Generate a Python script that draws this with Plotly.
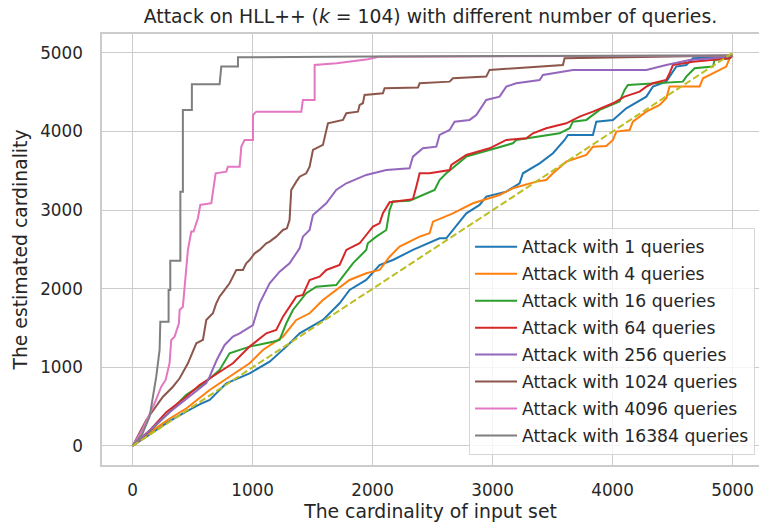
import plotly.graph_objects as go

# ---- data ----
series_names = ["Attack with 1 queries", "Attack with 4 queries", "Attack with 16 queries",
                "Attack with 64 queries", "Attack with 256 queries", "Attack with 1024 queries",
                "Attack with 4096 queries", "Attack with 16384 queries"]
colors = ["#1f77b4", "#ff7f0e", "#2ca02c", "#d62728", "#9467bd", "#8c564b", "#e377c2", "#7f7f7f"]

q1 = [(0,0),(150,160),(300,310),(450,440),(558,530),(642,585),(781,797),(975,924),(1142,1073),(1281,1264),
      (1392,1433),(1586,1603),(1725,1815),(1808,1985),(1947,2112),(2058,2300),(2169,2366),(2336,2494),(2558,2642),
      (2614,2642),(2669,2748),(2781,2960),(2892,3066),(2947,3172),(3114,3236),(3225,3342),(3253,3469),(3392,3596),
      (3503,3724),(3600,3893),(3628,3957),(3836,3957),(3864,4126),(4003,4148),(4114,4296),(4281,4444),(4336,4572),
      (4447,4635),(4530,4826),(4614,4847),(4669,4932),(4975,4953),(5000,4968)]
q4 = [(0,0),(150,180),(300,340),(450,480),(642,712),(808,882),(975,1052),(1086,1221),(1253,1391),(1364,1603),
      (1475,1688),(1586,1857),(1697,1985),(1808,2112),(1947,2197),(2058,2239),(2142,2408),(2225,2536),(2392,2663),
      (2475,2706),(2503,2854),(2669,2960),(2836,3088),(3058,3193),(3169,3278),(3364,3363),(3447,3384),(3503,3469),
      (3614,3617),(3781,3702),(3836,3808),(3947,3817),(4003,3893),(4031,3999),(4142,4020),(4169,4126),(4281,4253),
      (4392,4338),(4447,4423),(4475,4572),(4725,4572),(4753,4678),(4864,4763),(4947,4826),(4975,4932),(5000,4968)]
q16 = [(0,0),(150,200),(300,420),(447,650),(600,800),(725,967),(808,1179),(975,1264),(1169,1327),(1225,1349),
       (1281,1561),(1336,1730),(1447,1943),(1531,2027),(1697,2048),(1753,2154),(1836,2324),(1947,2494),(1960,2579),
       (2031,2663),(2114,2748),(2142,3003),(2169,3110),(2308,3120),(2392,3172),(2447,3215),(2517,3257),(2558,3384),
       (2614,3470),(2781,3681),(2975,3766),(3169,3851),(3197,3893),(3447,3957),(3558,3978),(3642,4042),(3669,4126),
       (3781,4148),(3892,4275),(4058,4381),(4100,4529),(4128,4593),(4336,4614),(4586,4635),(4614,4699),(4683,4805),
       (4836,4826),(4850,4911),(4975,4932),(5000,4968)]
q64 = [(0,0),(150,210),(281,430),(447,627),(558,776),(669,882),(836,1052),(975,1264),(1114,1433),(1197,1476),
       (1253,1645),(1364,1900),(1419,1921),(1475,2112),(1558,2154),(1614,2239),(1725,2303),(1781,2494),(1892,2579),
       (1947,2684),(2003,2790),(2058,2833),(2086,2960),(2142,3100),(2336,3140),(2364,3299),(2392,3469),(2475,3469),
       (2642,3511),(2656,3575),(2781,3702),(2975,3787),(3114,3893),(3281,3914),(3336,3978),(3447,4042),(3614,4105),
       (3725,4190),(3836,4253),(4003,4360),(4100,4444),(4225,4508),(4281,4572),(4336,4614),(4447,4656),(4475,4741),
       (4503,4847),(4669,4889),(4975,4932),(5000,4968)]
q256 = [(0,0),(150,210),(300,420),(450,600),(614,800),(642,882),(700,1090),(767,1285),(836,1391),(892,1433),
        (975,1518),(1003,1539),(1058,1815),(1114,1985),(1142,2070),(1225,2218),(1308,2324),(1392,2515),(1419,2663),
        (1475,2748),(1503,2939),(1614,3088),(1697,3257),(1781,3342),(1947,3448),(2114,3511),(2308,3533),(2336,3681),
        (2419,3787),(2531,3808),(2558,3957),(2642,4020),(2683,4126),(2808,4148),(2864,4211),(2947,4402),(3058,4444),
        (3114,4572),(3197,4614),(3392,4656),(3419,4720),(3669,4784),(4281,4784),(4447,4847),(4642,4911),(4836,4932),
        (5000,4968)]
q1024 = [(0,0),(114,331),(253,627),(336,754),(392,861),(433,967),(461,1052),(531,1306),(586,1349),(614,1603),
         (669,1688),(697,1815),(725,1900),(767,1985),(808,2070),(836,2154),(864,2239),(919,2239),(947,2324),
         (975,2366),(1017,2451),(1058,2494),(1114,2579),(1142,2600),(1197,2663),(1253,2748),(1286,2769),(1308,2875),
         (1322,3257),(1364,3363),(1392,3426),(1447,3469),(1475,3553),(1503,3766),(1531,3787),(1586,3830),(1628,4106),
         (1697,4126),(1753,4148),(1781,4233),(1878,4253),(1892,4338),(1919,4360),(1933,4466),(2086,4487),(2100,4551),
         (2378,4560),(2392,4614),(2642,4635),(2669,4678),(2947,4699),(2975,4784),(3586,4847),(3600,4932),(4253,4945),
         (5000,4968)]
q4096 = [(0,0),(80,200),(183,543),(239,755),(275,840),(308,1052),(322,1349),(350,1391),(386,1561),(392,1730),
         (419,1772),(433,1985),(453,2281),(461,2494),(489,2727),(508,2727),(544,2897),(564,3066),(656,3088),
         (692,3469),(781,3490),(794,3553),(892,3553),(906,3808),(933,3893),(1003,3893),(1003,4211),(1031,4253),
         (1406,4253),(1419,4402),(1517,4402),(1517,4847),(1700,4870),(1850,4895),(1961,4920),(2050,4950),(5000,4968)]
q16384 = [(0,0),(80,150),(142,374),(197,882),(225,1221),(231,1581),(267,1581),(300,1581),(300,1985),(314,1985),
          (314,2357),(398,2357),(398,3235),(419,3235),(419,4275),(494,4275),(494,4602),(725,4602),(739,4826),
          (878,4826),(878,4945),(2000,4955),(5000,4968)]
all_series = [q1, q4, q16, q64, q256, q1024, q4096, q16384]

true_x = [0, 5000]
true_y = [0, 5000]

x_ticks = [0, 1000, 2000, 3000, 4000, 5000]
y_ticks = [0, 1000, 2000, 3000, 4000, 5000]

# ---- figure ----
fig = go.Figure()
for i, (name, col, pts) in enumerate(zip(series_names, colors, all_series)):
    fig.add_trace(go.Scatter(x=[p[0] for p in pts], y=[p[1] for p in pts], mode="lines", name=name,
                             legendgroup="g%d" % i, line=dict(color=col, width=2)))
fig.add_trace(go.Scatter(x=true_x, y=true_y, mode="lines", showlegend=False,
                         line=dict(color="#bcbd22", width=2, dash="7px,3px")))

txt = "#262626"
fig.update_layout(
    width=759, height=527,
    margin=dict(l=102, r=0, t=34, b=62, autoexpand=False),
    paper_bgcolor="white", plot_bgcolor="white",
    font=dict(family="DejaVu Sans", size=16.8, color=txt),
    title=dict(text="Attack on HLL++ (<i>k</i> = 104) with different number of queries.",
               x=0.5, xref="paper", xanchor="center", y=1 - 16.5 / 527, yref="container", yanchor="middle",
               font=dict(size=18.8, color=txt)),
    legend=dict(x=0.994, y=0.023, xanchor="right", yanchor="bottom",
                bgcolor="rgba(255,255,255,0.8)", bordercolor="#d6d6d6", borderwidth=1,
                itemwidth=42, tracegroupgap=1.6,
                font=dict(size=17.2, color=txt)),
    showlegend=True,
)
fig.update_xaxes(range=[-255, 5220], tickvals=x_ticks, ticktext=[str(v) for v in x_ticks],
                 showgrid=True, gridcolor="#cccccc", gridwidth=1.3, zeroline=False,
                 showline=True, linecolor="#cccccc", linewidth=1.5, mirror=True, automargin=False,
                 ticks="outside", ticklen=9, tickcolor="rgba(0,0,0,0)",
                 title=dict(text="The cardinality of input set", font=dict(size=18.8), standoff=6))
fig.update_yaxes(range=[-242, 5241], tickvals=y_ticks, ticktext=[str(v) for v in y_ticks],
                 showgrid=True, gridcolor="#cccccc", gridwidth=1.3, zeroline=False,
                 showline=True, linecolor="#cccccc", linewidth=1.5, automargin=False,
                 ticks="outside", ticklen=14, tickcolor="rgba(0,0,0,0)",
                 title=dict(text="The estimated cardinality", font=dict(size=18.8), standoff=8))

fig.write_html("out.html", config={"displayModeBar": False},
               post_script="document.body.style.margin='0px';")
